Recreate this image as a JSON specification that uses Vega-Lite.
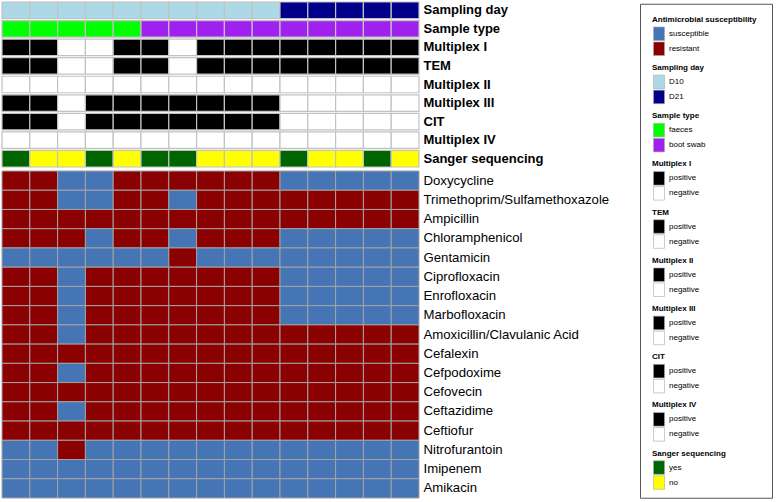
{
  "$schema": "https://vega.github.io/schema/vega-lite/v6.json",
  "padding": {"left": 1, "top": 1, "right": 0, "bottom": 0},
  "background": "white",
  "config": {
    "font": "Liberation Sans",
    "view": {"stroke": null},
    "axis": {"domain": false, "ticks": false, "labelColor": "#000000", "labelLimit": 0, "labelPadding": 4, "title": null},
    "legend": {
      "orient": "top-left",
      "offset": 12,
      "padding": 0,
      "layout": {"top-left": {"direction": "vertical", "margin": 7.2}},
      "titleFontSize": 8,
      "titleFontWeight": "bold",
      "titleColor": "#000000",
      "titlePadding": 3,
      "labelFontSize": 8,
      "labelColor": "#000000",
      "labelOffset": 3,
      "rowPadding": -3,
      "symbolSize": 169,
      "symbolStrokeColor": "#aaaaaa",
      "symbolStrokeWidth": 0.6
    }
  },
  "datasets": {
    "ast": [
      {"s":1,"d":"Doxycycline","r":"resistant"},{"s":2,"d":"Doxycycline","r":"resistant"},{"s":3,"d":"Doxycycline","r":"susceptible"},{"s":4,"d":"Doxycycline","r":"susceptible"},{"s":5,"d":"Doxycycline","r":"resistant"},{"s":6,"d":"Doxycycline","r":"resistant"},{"s":7,"d":"Doxycycline","r":"resistant"},{"s":8,"d":"Doxycycline","r":"resistant"},{"s":9,"d":"Doxycycline","r":"resistant"},{"s":10,"d":"Doxycycline","r":"resistant"},{"s":11,"d":"Doxycycline","r":"susceptible"},{"s":12,"d":"Doxycycline","r":"susceptible"},{"s":13,"d":"Doxycycline","r":"susceptible"},{"s":14,"d":"Doxycycline","r":"susceptible"},{"s":15,"d":"Doxycycline","r":"susceptible"},
      {"s":1,"d":"Trimethoprim/Sulfamethoxazole","r":"resistant"},{"s":2,"d":"Trimethoprim/Sulfamethoxazole","r":"resistant"},{"s":3,"d":"Trimethoprim/Sulfamethoxazole","r":"susceptible"},{"s":4,"d":"Trimethoprim/Sulfamethoxazole","r":"susceptible"},{"s":5,"d":"Trimethoprim/Sulfamethoxazole","r":"resistant"},{"s":6,"d":"Trimethoprim/Sulfamethoxazole","r":"resistant"},{"s":7,"d":"Trimethoprim/Sulfamethoxazole","r":"susceptible"},{"s":8,"d":"Trimethoprim/Sulfamethoxazole","r":"resistant"},{"s":9,"d":"Trimethoprim/Sulfamethoxazole","r":"resistant"},{"s":10,"d":"Trimethoprim/Sulfamethoxazole","r":"resistant"},{"s":11,"d":"Trimethoprim/Sulfamethoxazole","r":"resistant"},{"s":12,"d":"Trimethoprim/Sulfamethoxazole","r":"resistant"},{"s":13,"d":"Trimethoprim/Sulfamethoxazole","r":"resistant"},{"s":14,"d":"Trimethoprim/Sulfamethoxazole","r":"resistant"},{"s":15,"d":"Trimethoprim/Sulfamethoxazole","r":"resistant"},
      {"s":1,"d":"Ampicillin","r":"resistant"},{"s":2,"d":"Ampicillin","r":"resistant"},{"s":3,"d":"Ampicillin","r":"resistant"},{"s":4,"d":"Ampicillin","r":"resistant"},{"s":5,"d":"Ampicillin","r":"resistant"},{"s":6,"d":"Ampicillin","r":"resistant"},{"s":7,"d":"Ampicillin","r":"resistant"},{"s":8,"d":"Ampicillin","r":"resistant"},{"s":9,"d":"Ampicillin","r":"resistant"},{"s":10,"d":"Ampicillin","r":"resistant"},{"s":11,"d":"Ampicillin","r":"resistant"},{"s":12,"d":"Ampicillin","r":"resistant"},{"s":13,"d":"Ampicillin","r":"resistant"},{"s":14,"d":"Ampicillin","r":"resistant"},{"s":15,"d":"Ampicillin","r":"resistant"},
      {"s":1,"d":"Chloramphenicol","r":"resistant"},{"s":2,"d":"Chloramphenicol","r":"resistant"},{"s":3,"d":"Chloramphenicol","r":"resistant"},{"s":4,"d":"Chloramphenicol","r":"susceptible"},{"s":5,"d":"Chloramphenicol","r":"resistant"},{"s":6,"d":"Chloramphenicol","r":"resistant"},{"s":7,"d":"Chloramphenicol","r":"susceptible"},{"s":8,"d":"Chloramphenicol","r":"resistant"},{"s":9,"d":"Chloramphenicol","r":"resistant"},{"s":10,"d":"Chloramphenicol","r":"resistant"},{"s":11,"d":"Chloramphenicol","r":"susceptible"},{"s":12,"d":"Chloramphenicol","r":"susceptible"},{"s":13,"d":"Chloramphenicol","r":"susceptible"},{"s":14,"d":"Chloramphenicol","r":"susceptible"},{"s":15,"d":"Chloramphenicol","r":"susceptible"},
      {"s":1,"d":"Gentamicin","r":"susceptible"},{"s":2,"d":"Gentamicin","r":"susceptible"},{"s":3,"d":"Gentamicin","r":"susceptible"},{"s":4,"d":"Gentamicin","r":"susceptible"},{"s":5,"d":"Gentamicin","r":"susceptible"},{"s":6,"d":"Gentamicin","r":"susceptible"},{"s":7,"d":"Gentamicin","r":"resistant"},{"s":8,"d":"Gentamicin","r":"susceptible"},{"s":9,"d":"Gentamicin","r":"susceptible"},{"s":10,"d":"Gentamicin","r":"susceptible"},{"s":11,"d":"Gentamicin","r":"susceptible"},{"s":12,"d":"Gentamicin","r":"susceptible"},{"s":13,"d":"Gentamicin","r":"susceptible"},{"s":14,"d":"Gentamicin","r":"susceptible"},{"s":15,"d":"Gentamicin","r":"susceptible"},
      {"s":1,"d":"Ciprofloxacin","r":"resistant"},{"s":2,"d":"Ciprofloxacin","r":"resistant"},{"s":3,"d":"Ciprofloxacin","r":"susceptible"},{"s":4,"d":"Ciprofloxacin","r":"resistant"},{"s":5,"d":"Ciprofloxacin","r":"resistant"},{"s":6,"d":"Ciprofloxacin","r":"resistant"},{"s":7,"d":"Ciprofloxacin","r":"resistant"},{"s":8,"d":"Ciprofloxacin","r":"resistant"},{"s":9,"d":"Ciprofloxacin","r":"resistant"},{"s":10,"d":"Ciprofloxacin","r":"resistant"},{"s":11,"d":"Ciprofloxacin","r":"susceptible"},{"s":12,"d":"Ciprofloxacin","r":"susceptible"},{"s":13,"d":"Ciprofloxacin","r":"susceptible"},{"s":14,"d":"Ciprofloxacin","r":"susceptible"},{"s":15,"d":"Ciprofloxacin","r":"susceptible"},
      {"s":1,"d":"Enrofloxacin","r":"resistant"},{"s":2,"d":"Enrofloxacin","r":"resistant"},{"s":3,"d":"Enrofloxacin","r":"susceptible"},{"s":4,"d":"Enrofloxacin","r":"resistant"},{"s":5,"d":"Enrofloxacin","r":"resistant"},{"s":6,"d":"Enrofloxacin","r":"resistant"},{"s":7,"d":"Enrofloxacin","r":"resistant"},{"s":8,"d":"Enrofloxacin","r":"resistant"},{"s":9,"d":"Enrofloxacin","r":"resistant"},{"s":10,"d":"Enrofloxacin","r":"resistant"},{"s":11,"d":"Enrofloxacin","r":"susceptible"},{"s":12,"d":"Enrofloxacin","r":"susceptible"},{"s":13,"d":"Enrofloxacin","r":"susceptible"},{"s":14,"d":"Enrofloxacin","r":"susceptible"},{"s":15,"d":"Enrofloxacin","r":"susceptible"},
      {"s":1,"d":"Marbofloxacin","r":"resistant"},{"s":2,"d":"Marbofloxacin","r":"resistant"},{"s":3,"d":"Marbofloxacin","r":"susceptible"},{"s":4,"d":"Marbofloxacin","r":"resistant"},{"s":5,"d":"Marbofloxacin","r":"resistant"},{"s":6,"d":"Marbofloxacin","r":"resistant"},{"s":7,"d":"Marbofloxacin","r":"resistant"},{"s":8,"d":"Marbofloxacin","r":"resistant"},{"s":9,"d":"Marbofloxacin","r":"resistant"},{"s":10,"d":"Marbofloxacin","r":"resistant"},{"s":11,"d":"Marbofloxacin","r":"susceptible"},{"s":12,"d":"Marbofloxacin","r":"susceptible"},{"s":13,"d":"Marbofloxacin","r":"susceptible"},{"s":14,"d":"Marbofloxacin","r":"susceptible"},{"s":15,"d":"Marbofloxacin","r":"susceptible"},
      {"s":1,"d":"Amoxicillin/Clavulanic Acid","r":"resistant"},{"s":2,"d":"Amoxicillin/Clavulanic Acid","r":"resistant"},{"s":3,"d":"Amoxicillin/Clavulanic Acid","r":"susceptible"},{"s":4,"d":"Amoxicillin/Clavulanic Acid","r":"resistant"},{"s":5,"d":"Amoxicillin/Clavulanic Acid","r":"resistant"},{"s":6,"d":"Amoxicillin/Clavulanic Acid","r":"resistant"},{"s":7,"d":"Amoxicillin/Clavulanic Acid","r":"resistant"},{"s":8,"d":"Amoxicillin/Clavulanic Acid","r":"resistant"},{"s":9,"d":"Amoxicillin/Clavulanic Acid","r":"resistant"},{"s":10,"d":"Amoxicillin/Clavulanic Acid","r":"resistant"},{"s":11,"d":"Amoxicillin/Clavulanic Acid","r":"resistant"},{"s":12,"d":"Amoxicillin/Clavulanic Acid","r":"resistant"},{"s":13,"d":"Amoxicillin/Clavulanic Acid","r":"resistant"},{"s":14,"d":"Amoxicillin/Clavulanic Acid","r":"resistant"},{"s":15,"d":"Amoxicillin/Clavulanic Acid","r":"resistant"},
      {"s":1,"d":"Cefalexin","r":"resistant"},{"s":2,"d":"Cefalexin","r":"resistant"},{"s":3,"d":"Cefalexin","r":"resistant"},{"s":4,"d":"Cefalexin","r":"resistant"},{"s":5,"d":"Cefalexin","r":"resistant"},{"s":6,"d":"Cefalexin","r":"resistant"},{"s":7,"d":"Cefalexin","r":"resistant"},{"s":8,"d":"Cefalexin","r":"resistant"},{"s":9,"d":"Cefalexin","r":"resistant"},{"s":10,"d":"Cefalexin","r":"resistant"},{"s":11,"d":"Cefalexin","r":"resistant"},{"s":12,"d":"Cefalexin","r":"resistant"},{"s":13,"d":"Cefalexin","r":"resistant"},{"s":14,"d":"Cefalexin","r":"resistant"},{"s":15,"d":"Cefalexin","r":"resistant"},
      {"s":1,"d":"Cefpodoxime","r":"resistant"},{"s":2,"d":"Cefpodoxime","r":"resistant"},{"s":3,"d":"Cefpodoxime","r":"susceptible"},{"s":4,"d":"Cefpodoxime","r":"resistant"},{"s":5,"d":"Cefpodoxime","r":"resistant"},{"s":6,"d":"Cefpodoxime","r":"resistant"},{"s":7,"d":"Cefpodoxime","r":"resistant"},{"s":8,"d":"Cefpodoxime","r":"resistant"},{"s":9,"d":"Cefpodoxime","r":"resistant"},{"s":10,"d":"Cefpodoxime","r":"resistant"},{"s":11,"d":"Cefpodoxime","r":"resistant"},{"s":12,"d":"Cefpodoxime","r":"resistant"},{"s":13,"d":"Cefpodoxime","r":"resistant"},{"s":14,"d":"Cefpodoxime","r":"resistant"},{"s":15,"d":"Cefpodoxime","r":"resistant"},
      {"s":1,"d":"Cefovecin","r":"resistant"},{"s":2,"d":"Cefovecin","r":"resistant"},{"s":3,"d":"Cefovecin","r":"resistant"},{"s":4,"d":"Cefovecin","r":"resistant"},{"s":5,"d":"Cefovecin","r":"resistant"},{"s":6,"d":"Cefovecin","r":"resistant"},{"s":7,"d":"Cefovecin","r":"resistant"},{"s":8,"d":"Cefovecin","r":"resistant"},{"s":9,"d":"Cefovecin","r":"resistant"},{"s":10,"d":"Cefovecin","r":"resistant"},{"s":11,"d":"Cefovecin","r":"resistant"},{"s":12,"d":"Cefovecin","r":"resistant"},{"s":13,"d":"Cefovecin","r":"resistant"},{"s":14,"d":"Cefovecin","r":"resistant"},{"s":15,"d":"Cefovecin","r":"resistant"},
      {"s":1,"d":"Ceftazidime","r":"resistant"},{"s":2,"d":"Ceftazidime","r":"resistant"},{"s":3,"d":"Ceftazidime","r":"susceptible"},{"s":4,"d":"Ceftazidime","r":"resistant"},{"s":5,"d":"Ceftazidime","r":"resistant"},{"s":6,"d":"Ceftazidime","r":"resistant"},{"s":7,"d":"Ceftazidime","r":"resistant"},{"s":8,"d":"Ceftazidime","r":"resistant"},{"s":9,"d":"Ceftazidime","r":"resistant"},{"s":10,"d":"Ceftazidime","r":"resistant"},{"s":11,"d":"Ceftazidime","r":"resistant"},{"s":12,"d":"Ceftazidime","r":"resistant"},{"s":13,"d":"Ceftazidime","r":"resistant"},{"s":14,"d":"Ceftazidime","r":"resistant"},{"s":15,"d":"Ceftazidime","r":"resistant"},
      {"s":1,"d":"Ceftiofur","r":"resistant"},{"s":2,"d":"Ceftiofur","r":"resistant"},{"s":3,"d":"Ceftiofur","r":"resistant"},{"s":4,"d":"Ceftiofur","r":"resistant"},{"s":5,"d":"Ceftiofur","r":"resistant"},{"s":6,"d":"Ceftiofur","r":"resistant"},{"s":7,"d":"Ceftiofur","r":"resistant"},{"s":8,"d":"Ceftiofur","r":"resistant"},{"s":9,"d":"Ceftiofur","r":"resistant"},{"s":10,"d":"Ceftiofur","r":"resistant"},{"s":11,"d":"Ceftiofur","r":"resistant"},{"s":12,"d":"Ceftiofur","r":"resistant"},{"s":13,"d":"Ceftiofur","r":"resistant"},{"s":14,"d":"Ceftiofur","r":"resistant"},{"s":15,"d":"Ceftiofur","r":"resistant"},
      {"s":1,"d":"Nitrofurantoin","r":"susceptible"},{"s":2,"d":"Nitrofurantoin","r":"susceptible"},{"s":3,"d":"Nitrofurantoin","r":"resistant"},{"s":4,"d":"Nitrofurantoin","r":"susceptible"},{"s":5,"d":"Nitrofurantoin","r":"susceptible"},{"s":6,"d":"Nitrofurantoin","r":"susceptible"},{"s":7,"d":"Nitrofurantoin","r":"susceptible"},{"s":8,"d":"Nitrofurantoin","r":"susceptible"},{"s":9,"d":"Nitrofurantoin","r":"susceptible"},{"s":10,"d":"Nitrofurantoin","r":"susceptible"},{"s":11,"d":"Nitrofurantoin","r":"susceptible"},{"s":12,"d":"Nitrofurantoin","r":"susceptible"},{"s":13,"d":"Nitrofurantoin","r":"susceptible"},{"s":14,"d":"Nitrofurantoin","r":"susceptible"},{"s":15,"d":"Nitrofurantoin","r":"susceptible"},
      {"s":1,"d":"Imipenem","r":"susceptible"},{"s":2,"d":"Imipenem","r":"susceptible"},{"s":3,"d":"Imipenem","r":"susceptible"},{"s":4,"d":"Imipenem","r":"susceptible"},{"s":5,"d":"Imipenem","r":"susceptible"},{"s":6,"d":"Imipenem","r":"susceptible"},{"s":7,"d":"Imipenem","r":"susceptible"},{"s":8,"d":"Imipenem","r":"susceptible"},{"s":9,"d":"Imipenem","r":"susceptible"},{"s":10,"d":"Imipenem","r":"susceptible"},{"s":11,"d":"Imipenem","r":"susceptible"},{"s":12,"d":"Imipenem","r":"susceptible"},{"s":13,"d":"Imipenem","r":"susceptible"},{"s":14,"d":"Imipenem","r":"susceptible"},{"s":15,"d":"Imipenem","r":"susceptible"},
      {"s":1,"d":"Amikacin","r":"susceptible"},{"s":2,"d":"Amikacin","r":"susceptible"},{"s":3,"d":"Amikacin","r":"susceptible"},{"s":4,"d":"Amikacin","r":"susceptible"},{"s":5,"d":"Amikacin","r":"susceptible"},{"s":6,"d":"Amikacin","r":"susceptible"},{"s":7,"d":"Amikacin","r":"susceptible"},{"s":8,"d":"Amikacin","r":"susceptible"},{"s":9,"d":"Amikacin","r":"susceptible"},{"s":10,"d":"Amikacin","r":"susceptible"},{"s":11,"d":"Amikacin","r":"susceptible"},{"s":12,"d":"Amikacin","r":"susceptible"},{"s":13,"d":"Amikacin","r":"susceptible"},{"s":14,"d":"Amikacin","r":"susceptible"},{"s":15,"d":"Amikacin","r":"susceptible"}
    ],
    "ann": [
      {"s":1,"row":"Sampling day","v":"D10"},{"s":2,"row":"Sampling day","v":"D10"},{"s":3,"row":"Sampling day","v":"D10"},{"s":4,"row":"Sampling day","v":"D10"},{"s":5,"row":"Sampling day","v":"D10"},{"s":6,"row":"Sampling day","v":"D10"},{"s":7,"row":"Sampling day","v":"D10"},{"s":8,"row":"Sampling day","v":"D10"},{"s":9,"row":"Sampling day","v":"D10"},{"s":10,"row":"Sampling day","v":"D10"},{"s":11,"row":"Sampling day","v":"D21"},{"s":12,"row":"Sampling day","v":"D21"},{"s":13,"row":"Sampling day","v":"D21"},{"s":14,"row":"Sampling day","v":"D21"},{"s":15,"row":"Sampling day","v":"D21"},
      {"s":1,"row":"Sample type","v":"faeces"},{"s":2,"row":"Sample type","v":"faeces"},{"s":3,"row":"Sample type","v":"faeces"},{"s":4,"row":"Sample type","v":"faeces"},{"s":5,"row":"Sample type","v":"faeces"},{"s":6,"row":"Sample type","v":"boot swab"},{"s":7,"row":"Sample type","v":"boot swab"},{"s":8,"row":"Sample type","v":"boot swab"},{"s":9,"row":"Sample type","v":"boot swab"},{"s":10,"row":"Sample type","v":"boot swab"},{"s":11,"row":"Sample type","v":"boot swab"},{"s":12,"row":"Sample type","v":"boot swab"},{"s":13,"row":"Sample type","v":"boot swab"},{"s":14,"row":"Sample type","v":"boot swab"},{"s":15,"row":"Sample type","v":"boot swab"},
      {"s":1,"row":"Multiplex I","v":"positive"},{"s":2,"row":"Multiplex I","v":"positive"},{"s":3,"row":"Multiplex I","v":"negative"},{"s":4,"row":"Multiplex I","v":"negative"},{"s":5,"row":"Multiplex I","v":"positive"},{"s":6,"row":"Multiplex I","v":"positive"},{"s":7,"row":"Multiplex I","v":"negative"},{"s":8,"row":"Multiplex I","v":"positive"},{"s":9,"row":"Multiplex I","v":"positive"},{"s":10,"row":"Multiplex I","v":"positive"},{"s":11,"row":"Multiplex I","v":"positive"},{"s":12,"row":"Multiplex I","v":"positive"},{"s":13,"row":"Multiplex I","v":"positive"},{"s":14,"row":"Multiplex I","v":"positive"},{"s":15,"row":"Multiplex I","v":"positive"},
      {"s":1,"row":"TEM","v":"positive"},{"s":2,"row":"TEM","v":"positive"},{"s":3,"row":"TEM","v":"negative"},{"s":4,"row":"TEM","v":"negative"},{"s":5,"row":"TEM","v":"positive"},{"s":6,"row":"TEM","v":"positive"},{"s":7,"row":"TEM","v":"negative"},{"s":8,"row":"TEM","v":"positive"},{"s":9,"row":"TEM","v":"positive"},{"s":10,"row":"TEM","v":"positive"},{"s":11,"row":"TEM","v":"positive"},{"s":12,"row":"TEM","v":"positive"},{"s":13,"row":"TEM","v":"positive"},{"s":14,"row":"TEM","v":"positive"},{"s":15,"row":"TEM","v":"positive"},
      {"s":1,"row":"Multiplex II","v":"negative"},{"s":2,"row":"Multiplex II","v":"negative"},{"s":3,"row":"Multiplex II","v":"negative"},{"s":4,"row":"Multiplex II","v":"negative"},{"s":5,"row":"Multiplex II","v":"negative"},{"s":6,"row":"Multiplex II","v":"negative"},{"s":7,"row":"Multiplex II","v":"negative"},{"s":8,"row":"Multiplex II","v":"negative"},{"s":9,"row":"Multiplex II","v":"negative"},{"s":10,"row":"Multiplex II","v":"negative"},{"s":11,"row":"Multiplex II","v":"negative"},{"s":12,"row":"Multiplex II","v":"negative"},{"s":13,"row":"Multiplex II","v":"negative"},{"s":14,"row":"Multiplex II","v":"negative"},{"s":15,"row":"Multiplex II","v":"negative"},
      {"s":1,"row":"Multiplex III","v":"positive"},{"s":2,"row":"Multiplex III","v":"positive"},{"s":3,"row":"Multiplex III","v":"negative"},{"s":4,"row":"Multiplex III","v":"positive"},{"s":5,"row":"Multiplex III","v":"positive"},{"s":6,"row":"Multiplex III","v":"positive"},{"s":7,"row":"Multiplex III","v":"positive"},{"s":8,"row":"Multiplex III","v":"positive"},{"s":9,"row":"Multiplex III","v":"positive"},{"s":10,"row":"Multiplex III","v":"positive"},{"s":11,"row":"Multiplex III","v":"negative"},{"s":12,"row":"Multiplex III","v":"negative"},{"s":13,"row":"Multiplex III","v":"negative"},{"s":14,"row":"Multiplex III","v":"negative"},{"s":15,"row":"Multiplex III","v":"negative"},
      {"s":1,"row":"CIT","v":"positive"},{"s":2,"row":"CIT","v":"positive"},{"s":3,"row":"CIT","v":"negative"},{"s":4,"row":"CIT","v":"positive"},{"s":5,"row":"CIT","v":"positive"},{"s":6,"row":"CIT","v":"positive"},{"s":7,"row":"CIT","v":"positive"},{"s":8,"row":"CIT","v":"positive"},{"s":9,"row":"CIT","v":"positive"},{"s":10,"row":"CIT","v":"positive"},{"s":11,"row":"CIT","v":"negative"},{"s":12,"row":"CIT","v":"negative"},{"s":13,"row":"CIT","v":"negative"},{"s":14,"row":"CIT","v":"negative"},{"s":15,"row":"CIT","v":"negative"},
      {"s":1,"row":"Multiplex IV","v":"negative"},{"s":2,"row":"Multiplex IV","v":"negative"},{"s":3,"row":"Multiplex IV","v":"negative"},{"s":4,"row":"Multiplex IV","v":"negative"},{"s":5,"row":"Multiplex IV","v":"negative"},{"s":6,"row":"Multiplex IV","v":"negative"},{"s":7,"row":"Multiplex IV","v":"negative"},{"s":8,"row":"Multiplex IV","v":"negative"},{"s":9,"row":"Multiplex IV","v":"negative"},{"s":10,"row":"Multiplex IV","v":"negative"},{"s":11,"row":"Multiplex IV","v":"negative"},{"s":12,"row":"Multiplex IV","v":"negative"},{"s":13,"row":"Multiplex IV","v":"negative"},{"s":14,"row":"Multiplex IV","v":"negative"},{"s":15,"row":"Multiplex IV","v":"negative"},
      {"s":1,"row":"Sanger sequencing","v":"yes"},{"s":2,"row":"Sanger sequencing","v":"no"},{"s":3,"row":"Sanger sequencing","v":"no"},{"s":4,"row":"Sanger sequencing","v":"yes"},{"s":5,"row":"Sanger sequencing","v":"no"},{"s":6,"row":"Sanger sequencing","v":"yes"},{"s":7,"row":"Sanger sequencing","v":"yes"},{"s":8,"row":"Sanger sequencing","v":"no"},{"s":9,"row":"Sanger sequencing","v":"no"},{"s":10,"row":"Sanger sequencing","v":"no"},{"s":11,"row":"Sanger sequencing","v":"yes"},{"s":12,"row":"Sanger sequencing","v":"no"},{"s":13,"row":"Sanger sequencing","v":"no"},{"s":14,"row":"Sanger sequencing","v":"yes"},{"s":15,"row":"Sanger sequencing","v":"no"}
    ]
  },
  "center": true,
  "spacing": 30,
  "hconcat": [
    {
      "width": 417,
      "height": 500,
      "layer": [
        {
          "data": {"name": "ast"},
          "mark": {"type": "rect", "stroke": "#a3a3a3", "strokeWidth": 1},
          "encoding": {
            "x": {"field": "s", "type": "ordinal", "axis": null, "scale": {"paddingInner": 0, "paddingOuter": 0}},
            "y": {
              "field": "d", "type": "nominal",
              "sort": ["Doxycycline","Trimethoprim/Sulfamethoxazole","Ampicillin","Chloramphenicol","Gentamicin","Ciprofloxacin","Enrofloxacin","Marbofloxacin","Amoxicillin/Clavulanic Acid","Cefalexin","Cefpodoxime","Cefovecin","Ceftazidime","Ceftiofur","Nitrofurantoin","Imipenem","Amikacin"],
              "scale": {"range": [170, 497], "paddingInner": 0, "paddingOuter": 0},
              "axis": {"orient": "right", "labelFontSize": 13.2, "labelPadding": 4}
            },
            "color": {
              "field": "r", "type": "nominal",
              "scale": {"domain": ["susceptible","resistant"], "range": ["#4575b4","#8b0000"]},
              "legend": null
            }
          }
        },
        {
          "data": {"name": "ann"},
          "mark": {"type": "rect", "stroke": "#c2c2c2", "strokeWidth": 1.2},
          "encoding": {
            "x": {"field": "s", "type": "ordinal", "axis": null},
            "y": {
              "field": "row", "type": "nominal",
              "sort": ["Sampling day","Sample type","Multiplex I","TEM","Multiplex II","Multiplex III","CIT","Multiplex IV","Sanger sequencing"],
              "scale": {"range": [0, 167], "paddingInner": 0.11, "paddingOuter": 0.055},
              "axis": {"orient": "right", "labelFontSize": 13, "labelFontWeight": "bold", "labelPadding": 4,
                       "labelExpr": "datum.value == 'TEM' || datum.value == 'CIT' ? '\u00a0' + datum.value : datum.value"}
            },
            "color": {
              "field": "v", "type": "nominal",
              "scale": {"domain": ["D10","D21","faeces","boot swab","positive","negative","yes","no"],
                        "range": ["#add8e6","#00008b","#00ff00","#a020f0","#000000","#ffffff","#006400","#ffff00"]},
              "legend": null
            }
          }
        }
      ],
      "resolve": {"scale": {"y": "independent", "color": "independent"}, "axis": {"y": "independent"}}
    },
    {
      "width": 132,
      "height": 494,
      "view": {"stroke": "#555555", "strokeWidth": 1},
      "layer": [
        {"data": {"name": "ast"}, "mark": {"type": "square", "opacity": 0},
         "encoding": {"color": {"field": "r", "type": "nominal", "title": "Antimicrobial susceptibility",
           "scale": {"domain": ["susceptible","resistant"], "range": ["#4575b4","#8b0000"]},
           "legend": {"symbolType": "M-0.85,-1.04H0.85V1.04H-0.85Z"}}}},
        {"data": {"name": "ann"}, "transform": [{"filter": "datum.row == 'Sampling day'"}], "mark": {"type": "square", "opacity": 0},
         "encoding": {"color": {"field": "v", "type": "nominal", "title": "Sampling day",
           "scale": {"domain": ["D10","D21"], "range": ["#add8e6","#00008b"]},
           "legend": {"symbolType": "M-0.85,-1.04H0.85V1.04H-0.85Z"}}}},
        {"data": {"name": "ann"}, "transform": [{"filter": "datum.row == 'Sample type'"}], "mark": {"type": "square", "opacity": 0},
         "encoding": {"color": {"field": "v", "type": "nominal", "title": "Sample type",
           "scale": {"domain": ["faeces","boot swab"], "range": ["#00ff00","#a020f0"]},
           "legend": {"symbolType": "M-0.85,-1.04H0.85V1.04H-0.85Z"}}}},
        {"data": {"name": "ann"}, "transform": [{"filter": "datum.row == 'Multiplex I'"}], "mark": {"type": "square", "opacity": 0},
         "encoding": {"color": {"field": "v", "type": "nominal", "title": "Multiplex I",
           "scale": {"domain": ["positive","negative"], "range": ["#000000","#ffffff"]},
           "legend": {"symbolType": "M-0.85,-1.04H0.85V1.04H-0.85Z"}}}},
        {"data": {"name": "ann"}, "transform": [{"filter": "datum.row == 'TEM'"}], "mark": {"type": "square", "opacity": 0},
         "encoding": {"color": {"field": "v", "type": "nominal", "title": "TEM",
           "scale": {"domain": ["positive","negative"], "range": ["#000000","#ffffff"]},
           "legend": {"symbolType": "M-0.85,-1.04H0.85V1.04H-0.85Z"}}}},
        {"data": {"name": "ann"}, "transform": [{"filter": "datum.row == 'Multiplex II'"}], "mark": {"type": "square", "opacity": 0},
         "encoding": {"color": {"field": "v", "type": "nominal", "title": "Multiplex II",
           "scale": {"domain": ["positive","negative"], "range": ["#000000","#ffffff"]},
           "legend": {"symbolType": "M-0.85,-1.04H0.85V1.04H-0.85Z"}}}},
        {"data": {"name": "ann"}, "transform": [{"filter": "datum.row == 'Multiplex III'"}], "mark": {"type": "square", "opacity": 0},
         "encoding": {"color": {"field": "v", "type": "nominal", "title": "Multiplex III",
           "scale": {"domain": ["positive","negative"], "range": ["#000000","#ffffff"]},
           "legend": {"symbolType": "M-0.85,-1.04H0.85V1.04H-0.85Z"}}}},
        {"data": {"name": "ann"}, "transform": [{"filter": "datum.row == 'CIT'"}], "mark": {"type": "square", "opacity": 0},
         "encoding": {"color": {"field": "v", "type": "nominal", "title": "CIT",
           "scale": {"domain": ["positive","negative"], "range": ["#000000","#ffffff"]},
           "legend": {"symbolType": "M-0.85,-1.04H0.85V1.04H-0.85Z"}}}},
        {"data": {"name": "ann"}, "transform": [{"filter": "datum.row == 'Multiplex IV'"}], "mark": {"type": "square", "opacity": 0},
         "encoding": {"color": {"field": "v", "type": "nominal", "title": "Multiplex IV",
           "scale": {"domain": ["positive","negative"], "range": ["#000000","#ffffff"]},
           "legend": {"symbolType": "M-0.85,-1.04H0.85V1.04H-0.85Z"}}}},
        {"data": {"name": "ann"}, "transform": [{"filter": "datum.row == 'Sanger sequencing'"}], "mark": {"type": "square", "opacity": 0},
         "encoding": {"color": {"field": "v", "type": "nominal", "title": "Sanger sequencing",
           "scale": {"domain": ["yes","no"], "range": ["#006400","#ffff00"]},
           "legend": {"symbolType": "M-0.85,-1.04H0.85V1.04H-0.85Z"}}}}
      ],
      "resolve": {"scale": {"color": "independent"}}
    }
  ]
}
